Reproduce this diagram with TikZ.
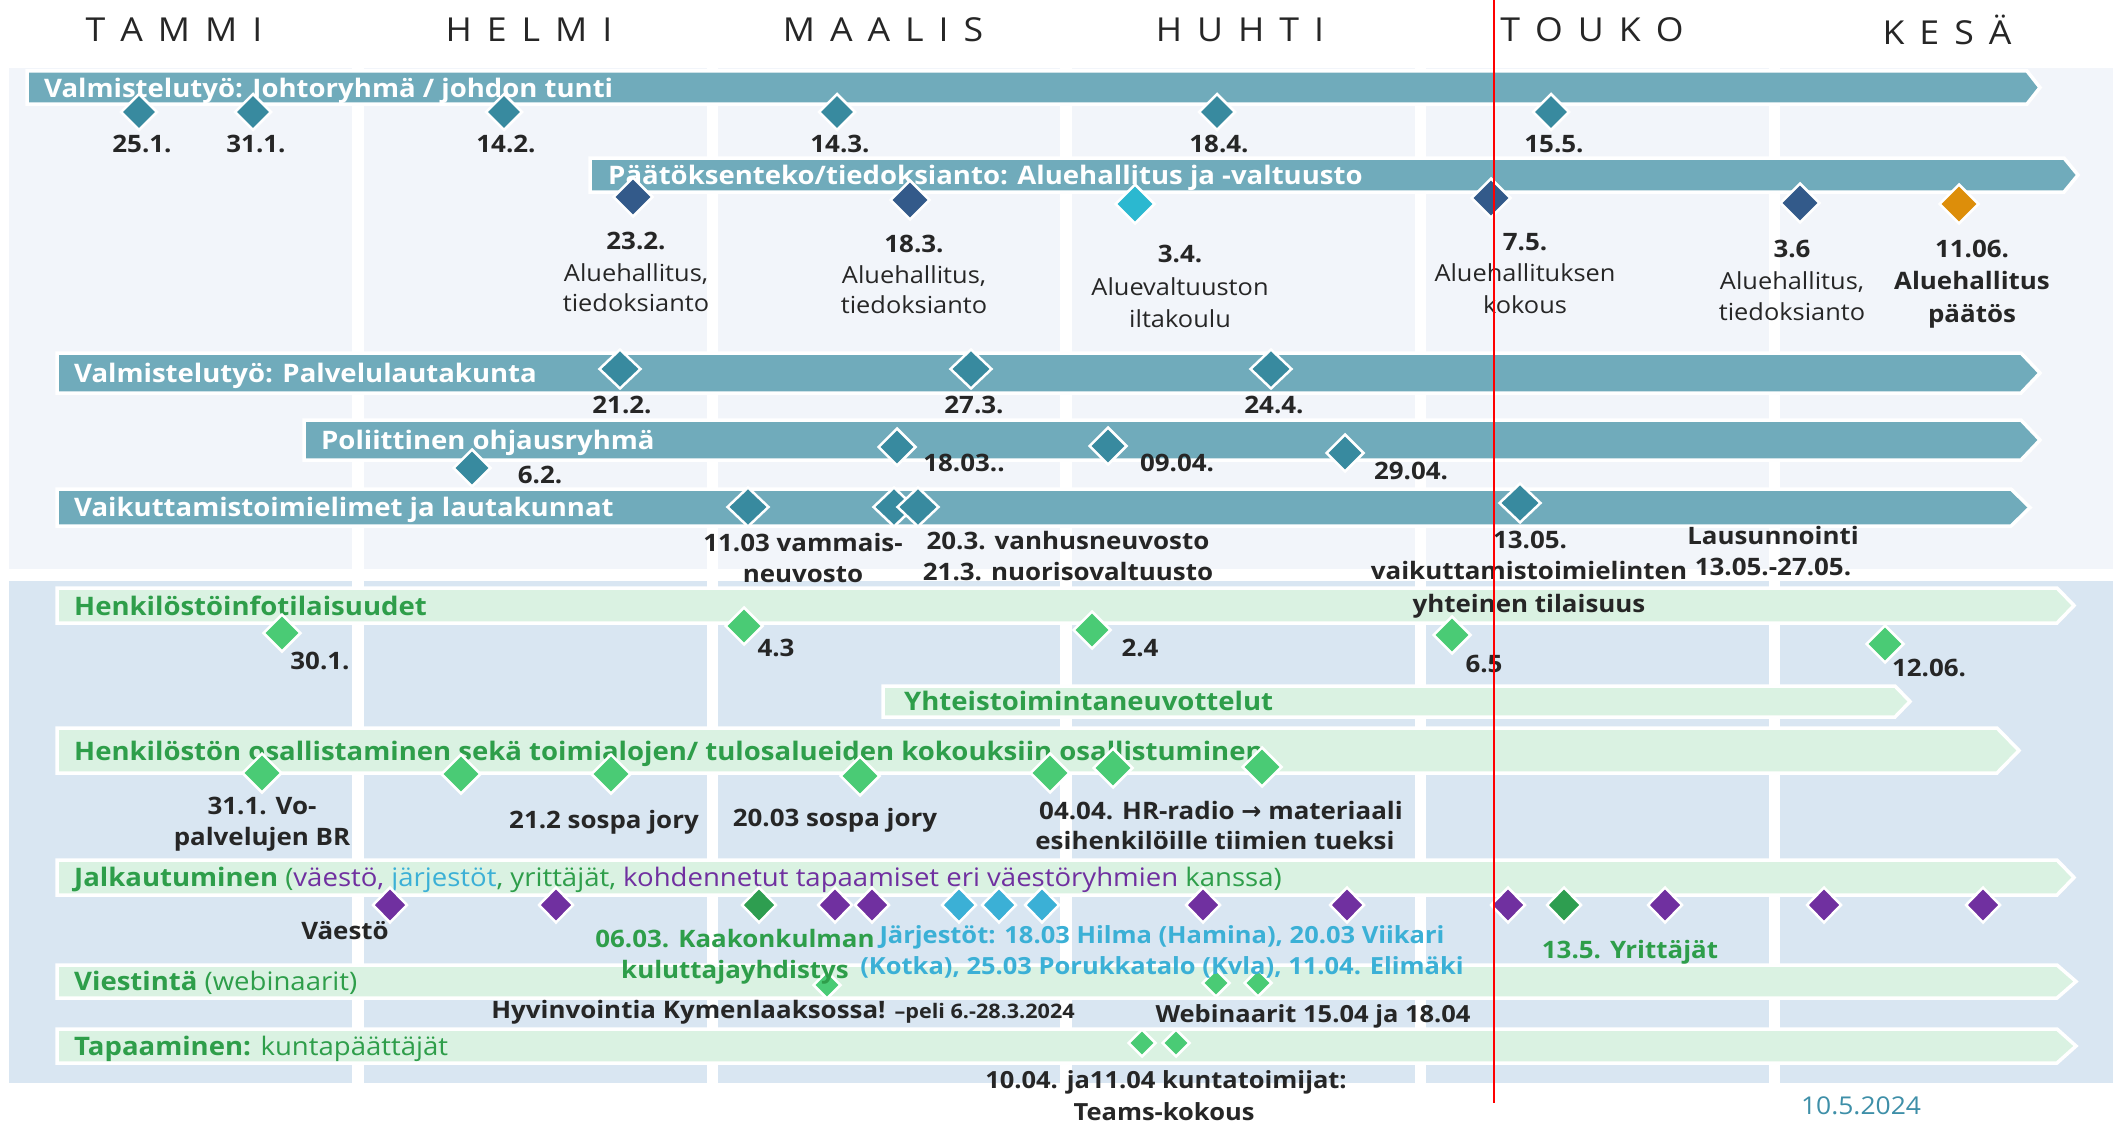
\documentclass[tikz,border=0pt]{standalone}
\usepackage{fontspec}
\setmainfont{Open Sans}[FakeStretch=1.08]
\newfontfamily\symfont{DejaVu Sans}
\usetikzlibrary{shapes.geometric}
\definecolor{toppan}{HTML}{F2F5FA}
\definecolor{botpan}{HTML}{D9E6F2}
\definecolor{tealbar}{HTML}{70ABBB}
\definecolor{dteal}{HTML}{388A9F}
\definecolor{dblue}{HTML}{335A8A}
\definecolor{cyand}{HTML}{2BB8D0}
\definecolor{orng}{HTML}{DD8E0A}
\definecolor{gbar}{HTML}{DAF2E2}
\definecolor{gtext}{HTML}{2E9E4A}
\definecolor{gdia}{HTML}{4ACB75}
\definecolor{dgreen}{HTML}{2E9E50}
\definecolor{purp}{HTML}{7030A0}
\definecolor{cyanj}{HTML}{3BB0D6}
\definecolor{txt}{HTML}{262626}
\definecolor{datec}{HTML}{3E8FA8}
\newcommand\tlbar[6]{\draw[#6] (#1,#2) -- (#3,#2) -- (#4,{(#2+#5)/2}) -- (#3,#5) -- (#1,#5) -- cycle;}
\newcommand\mgap{\hspace{15pt}}
\tikzset{
 tbar/.style={fill=tealbar, draw=white, line width=3.5pt},
 gbarst/.style={fill=gbar, draw=white, line width=3.5pt},
 blab/.style={anchor=base west, inner sep=0, text=white, font=\fontsize{25.5}{30}\selectfont\bfseries},
 glab/.style={anchor=base west, inner sep=0, text=gtext, font=\fontsize{25.5}{30}\selectfont\bfseries},
 dia/.style={diamond, draw=white, line width=2.5pt, inner sep=0, minimum width=38pt, minimum height=38pt},
 dt/.style={anchor=base, inner sep=0, text=txt, font=\fontsize{24}{28}\selectfont\bfseries},
 dts/.style={anchor=base, inner sep=0, text=txt, font=\fontsize{23.6}{28}\selectfont\bfseries},
 lt/.style={anchor=base, inner sep=0, text=txt, font=\fontsize{23.5}{28}\selectfont},
 month/.style={anchor=center, inner sep=0, text=black!85, font=\fontsize{33}{36}\selectfont},
}
\begin{document}
\begin{tikzpicture}[x=1pt,y=-1pt]
\useasboundingbox (0,0) rectangle (2113,1124);
\fill[white] (0,0) rectangle (2113,1124);
% panels
\foreach \a/\b in {9/352,364/707,718/1060,1072/1415,1426/1769,1780/2113}{
  \fill[toppan] (\a,68) rectangle (\b,569);
  \fill[botpan] (\a,581) rectangle (\b,1083);
}
% months
\node[month] (mtammi) at (174,30) {T\mgap A\mgap M\mgap M\mgap I};
\node[month] (mhelmi) at (529,30) {H\mgap E\mgap L\mgap M\mgap I};
\node[month] (mmaalis) at (883,30) {M\mgap A\mgap A\mgap L\mgap I\mgap S};
\node[month] (mhuhti) at (1240,30) {H\mgap U\mgap H\mgap T\mgap I};
\node[month] (mtouko) at (1592,30) {T\mgap O\mgap U\mgap K\mgap O};
\node[month] (mkesa) at (1947,30) {K\mgap E\mgap S\mgap Ä};
% bars
\tlbar{27}{71}{2027}{2040}{104}{tbar}
\tlbar{590}{158}{2064}{2078}{192}{tbar}
\tlbar{57}{353}{2021}{2040}{393}{tbar}
\tlbar{304}{420}{2021}{2040}{460}{tbar}
\tlbar{57}{489}{2011}{2030}{526}{tbar}
\tlbar{57}{588}{2057}{2074}{623}{gbarst}
\tlbar{883}{686}{1895}{1910}{717}{gbarst}
\tlbar{57}{728}{1997}{2019}{773}{gbarst}
\tlbar{57}{860}{2057}{2074}{895}{gbarst}
\tlbar{57}{965}{2057}{2076}{998}{gbarst}
\tlbar{57}{1029}{2057}{2076}{1063}{gbarst}
% bar labels
\node[blab] (b1) at (44,97) {Valmistelutyö: Johtoryhmä / johdon tunti};
\node[blab] (b2) at (608,184) {Päätöksenteko/tiedoksianto: Aluehallitus ja -valtuusto};
\node[blab] (b3) at (74,382) {Valmistelutyö: Palvelulautakunta};
\node[blab] (b4) at (321,449) {Poliittinen ohjausryhmä};
\node[blab] (b5) at (74,516) {Vaikuttamistoimielimet ja lautakunnat};
\node[glab] (b6) at (74,615) {Henkilöstöinfotilaisuudet};
\node[glab] (b7) at (904,710) {Yhteistoimintaneuvottelut};
\node[glab] (b8) at (74,760) {Henkilöstön osallistaminen sekä toimialojen/ tulosalueiden kokouksiin osallistuminen};
\node[glab] (b9) at (74,886) {Jalkautuminen \mdseries(\textcolor{purp}{väestö,} \textcolor{cyanj}{järjestöt}, yrittäjät, \textcolor{purp}{kohdennetut tapaamiset eri väestöryhmien} kanssa)};
\node[glab] (b10) at (74,990) {Viestintä \mdseries(webinaarit)};
\node[glab] (b11) at (74,1055) {Tapaaminen: \mdseries kuntapäättäjät};
% diamonds bar 1
\foreach \x [count=\i] in {139,253,504,837,1217,1551}
  \node[dia, fill=dteal, minimum width=37, minimum height=37] (p\i) at (\x,112) {};
% bar 2
\node[dia, fill=dblue, minimum width=40, minimum height=40] (q1) at (633,197) {};
\node[dia, fill=dblue, minimum width=40, minimum height=40] (q2) at (910,200) {};
\node[dia, fill=cyand, minimum width=40, minimum height=40] (q3) at (1135,204) {};
\node[dia, fill=dblue, minimum width=40, minimum height=40] (q4) at (1491,198) {};
\node[dia, fill=dblue, minimum width=40, minimum height=40] (q5) at (1800,203) {};
\node[dia, fill=orng, minimum width=40, minimum height=40] (q6) at (1959,204) {};
% bar 3
\node[dia, fill=dteal, minimum width=42, minimum height=40] (r1) at (620,369) {};
\node[dia, fill=dteal, minimum width=42, minimum height=40] (r2) at (971,369) {};
\node[dia, fill=dteal, minimum width=42, minimum height=40] (r3) at (1271,369) {};
% bar 4
\node[dia, fill=dteal] (s1) at (472,468) {};
\node[dia, fill=dteal] (s2) at (897,447) {};
\node[dia, fill=dteal] (s3) at (1108,446) {};
\node[dia, fill=dteal] (s4) at (1345,453) {};
% bar 5
\node[dia, fill=dteal, minimum width=42, minimum height=40] (t1) at (748,507) {};
\node[dia, fill=dteal, minimum width=42, minimum height=40] (t2) at (894,507) {};
\node[dia, fill=dteal, minimum width=42, minimum height=40] (t3) at (918,507) {};
\node[dia, fill=dteal, minimum width=42, minimum height=40] (t4) at (1520,503) {};
% bar 6
\node[dia, fill=gdia] (u1) at (282,633) {};
\node[dia, fill=gdia] (u2) at (744,626) {};
\node[dia, fill=gdia] (u3) at (1092,630) {};
\node[dia, fill=gdia] (u4) at (1452,635) {};
\node[dia, fill=gdia] (u5) at (1885,644) {};
% bar 8
\node[dia, fill=gdia, minimum width=40, minimum height=40] (v1) at (262,773) {};
\node[dia, fill=gdia, minimum width=40, minimum height=40] (v2) at (461,774) {};
\node[dia, fill=gdia, minimum width=40, minimum height=40] (v3) at (611,774) {};
\node[dia, fill=gdia, minimum width=40, minimum height=40] (v4) at (860,776) {};
\node[dia, fill=gdia, minimum width=40, minimum height=40] (v5) at (1050,773) {};
\node[dia, fill=gdia, minimum width=40, minimum height=40] (v6) at (1113,768) {};
\node[dia, fill=gdia, minimum width=40, minimum height=40] (v7) at (1262,767) {};
% bar 9
\foreach \x/\c [count=\i] in {390/purp,556/purp,759/dgreen,835/purp,872/purp,959/cyanj,999/cyanj,1042/cyanj,1203/purp,1347/purp,1508/purp,1564/dgreen,1665/purp,1824/purp,1983/purp}
  \node[dia, fill=\c, minimum width=35, minimum height=36] (w\i) at (\x,905) {};
% bar 10, 11
\node[dia, fill=gdia, minimum width=28, minimum height=28] (x1) at (827,985) {};
\node[dia, fill=gdia, minimum width=28, minimum height=28] (x2) at (1216,983) {};
\node[dia, fill=gdia, minimum width=28, minimum height=28] (x3) at (1258,983) {};
\node[dia, fill=gdia, minimum width=28, minimum height=28] (y1) at (1142,1043) {};
\node[dia, fill=gdia, minimum width=28, minimum height=28] (y2) at (1176,1043) {};
% labels top
\node[dt] (l1) at (142,152) {25.1.};
\node[dt] (l2) at (256,152) {31.1.};
\node[dt] (l3) at (506,152) {14.2.};
\node[dt] (l4) at (840,152) {14.3.};
\node[dt] (l5) at (1219,152) {18.4.};
\node[dt] (l6) at (1554,152) {15.5.};
\node[dt] (m1) at (636,249) {23.2.};
\node[lt] (m1a) at (636,281) {Aluehallitus,};
\node[lt] (m1b) at (636,311) {tiedoksianto};
\node[dt] (m2) at (914,252) {18.3.};
\node[lt] (m2a) at (914,283) {Aluehallitus,};
\node[lt] (m2b) at (914,313) {tiedoksianto};
\node[dt] (m3) at (1180,262) {3.4.};
\node[lt] (m3a) at (1180,295) {Aluevaltuuston};
\node[lt] (m3b) at (1180,327) {iltakoulu};
\node[dt] (m4) at (1525,250) {7.5.};
\node[lt] (m4a) at (1525,281) {Aluehallituksen};
\node[lt] (m4b) at (1525,313) {kokous};
\node[dt] (m5) at (1792,257) {3.6};
\node[lt] (m5a) at (1792,289) {Aluehallitus,};
\node[lt] (m5b) at (1792,320) {tiedoksianto};
\node[dt] (m6) at (1972,257) {11.06.};
\node[dt] (m6a) at (1972,289) {Aluehallitus};
\node[dt] (m6b) at (1972,322) {päätös};
\node[dt] (n1) at (622,413) {21.2.};
\node[dt] (n2) at (974,413) {27.3.};
\node[dt] (n3) at (1274,413) {24.4.};
\node[dt] (o1) at (540,483) {6.2.};
\node[dt] (o2) at (964,471) {18.03..};
\node[dt] (o3) at (1177,471) {09.04.};
\node[dt] (o4) at (1411,479) {29.04.};
\node[dt] (k1) at (803,551) {11.03 vammais-};
\node[dt] (k1b) at (803,582) {neuvosto};
\node[dt] (k2) at (1068,549) {20.3. vanhusneuvosto};
\node[dt] (k2b) at (1068,580) {21.3. nuorisovaltuusto};
\node[dt] (k3) at (1530,548) {13.05.};
\node[dt] (k3a) at (1529,579) {vaikuttamistoimielinten};
\node[dt] (k3b) at (1529,612) {yhteinen tilaisuus};
\node[dt] (k4) at (1773,544) {Lausunnointi};
\node[dt] (k4b) at (1773,575) {13.05.-27.05.};
% labels bottom
\node[dt] (g1) at (320,669) {30.1.};
\node[dt] (g2) at (776,656) {4.3};
\node[dt] (g3) at (1140,656) {2.4};
\node[dt] (g4) at (1484,672) {6.5};
\node[dt] (g5) at (1929,676) {12.06.};
\node[dt] (h1) at (262,814) {31.1. Vo-};
\node[dt] (h1b) at (262,845) {palvelujen BR};
\node[dt] (h2) at (604,828) {21.2 sospa jory};
\node[dt] (h3) at (835,826) {20.03 sospa jory};
\node[dt] (h4) at (1221,819) {04.04. HR-radio {\symfont →} materiaali};
\node[dt] (h4b) at (1215,849) {esihenkilöille tiimien tueksi};
\node[dt] (j1) at (345,939) {Väestö};
\node[dt, text=gtext] (j2) at (735,947) {06.03. Kaakonkulman};
\node[dt, text=gtext] (j2b) at (735,978) {kuluttajayhdistys};
\node[dts, text=cyanj] (j3) at (1162,943) {Järjestöt: 18.03 Hilma (Hamina), 20.03 Viikari};
\node[dts, text=cyanj] (j3b) at (1162,974) {(Kotka), 25.03 Porukkatalo (Kvla), 11.04. Elimäki};
\node[dt, text=gtext] (j4) at (1630,958) {13.5. Yrittäjät};
\node[dt] (z1) at (783,1018) {Hyvinvointia Kymenlaaksossa! {\fontsize{20}{24}\selectfont –peli 6.-28.3.2024}};
\node[dts] (z2) at (1313,1022) {Webinaarit 15.04 ja 18.04};
\node[dts] (z3) at (1166,1088) {10.04. ja11.04 kuntatoimijat:};
\node[dts] (z3b) at (1164,1120) {Teams-kokous};
\node[anchor=base, inner sep=0, text=datec, font=\fontsize{24.5}{28}\selectfont] (date) at (1861,1114) {10.5.2024};
% red line
\coordinate (rtop) at (1494,0);
\coordinate (rbot) at (1494,1103);
\draw[red, line width=2.2pt] (rtop) -- (rbot);
\end{tikzpicture}
\end{document}
